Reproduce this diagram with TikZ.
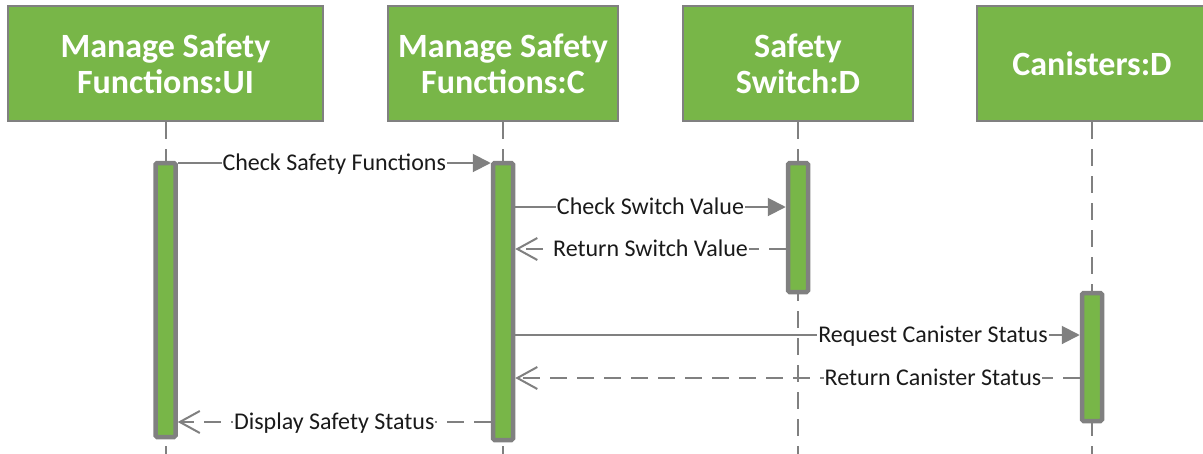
\documentclass[tikz,border=0pt]{standalone}
\usepackage{fontspec}
\setmainfont{Carlito}
\usetikzlibrary{arrows.meta}
\definecolor{actgreen}{RGB}{120,182,72}
\definecolor{linegray}{RGB}{128,128,128}
\definecolor{txtdark}{RGB}{26,26,26}
\begin{document}
\begin{tikzpicture}[x=1pt,y=-1pt,
  head/.style={draw=linegray, line width=2pt, fill=actgreen, text=white,
    font=\fontsize{34}{36}\selectfont\bfseries, align=center,
    minimum width=230pt, minimum height=115pt, inner sep=0pt},
  life/.style={draw=linegray, line width=2pt, dash pattern=on 17pt off 10pt},
  actbar/.style={draw=linegray, line width=4.5pt, fill=actgreen,
    rounded corners=1.5pt, minimum width=20pt, inner sep=0pt},
  call/.style={draw=linegray, line width=2pt, -{Triangle[length=18pt,width=18pt]}},
  reply/.style={draw=linegray, line width=2pt, dash pattern=on 17pt off 10pt,
    -{Straight Barb[length=20pt,width=22pt]}},
  lbl/.style={fill=white, text=txtdark, font=\fontsize{24}{26}\selectfont,
    inner sep=1pt, text height=15.5pt, text depth=0pt}
]
\useasboundingbox (0,0) rectangle (1203,453);

% lifeline heads
\node[head, minimum width=315pt] (h1) at (165.5,63.5) {Manage Safety\\Functions:UI};
\node[head] (h2) at (503,63.5) {Manage Safety\\Functions:C};
\node[head] (h3) at (798,63.5) {Safety\\Switch:D};
\node[head] (h4) at (1092,63.5) {Canisters:D};

% lifeline ends
\coordinate (e1) at (165.5,455);
\coordinate (e2) at (503,455);
\coordinate (e3) at (798,455);
\coordinate (e4) at (1092,455);

\draw[life] (h1.south) -- (e1);
\draw[life] (h2.south) -- (e2);
\draw[life] (h3.south) -- (e3);
\draw[life] (h4.south) -- (e4);

% activation bars
\node[actbar, minimum height=274pt] (b1) at (165.5,300) {};
\node[actbar, minimum height=277pt] (b2) at (503,301.5) {};
\node[actbar, minimum height=129pt] (b3) at (798,227.5) {};
\node[actbar, minimum height=128pt] (b4) at (1092,357) {};

% message rows
\coordinate (r1) at (0,163);
\coordinate (r2) at (0,207);
\coordinate (r3) at (0,249);
\coordinate (r4) at (0,335);
\coordinate (r5) at (0,378);
\coordinate (r6) at (0,422);

\draw[call] (b1.east |- r1) -- node[lbl] {Check Safety Functions} (b2.west |- r1);
\draw[call] (b2.east |- r2) -- node[lbl] {Check Switch Value} (b3.west |- r2);
\draw[reply] (b3.west |- r3) -- node[lbl] {Return Switch Value} (b2.east |- r3);
\draw[call] (b2.east |- r4) -- node[lbl, pos=0.74] {Request Canister Status} (b4.west |- r4);
\draw[reply] (b4.west |- r5) -- node[lbl, pos=0.26] {Return Canister Status} (b2.east |- r5);
\draw[reply] (b2.west |- r6) -- node[lbl] {Display Safety Status} (b1.east |- r6);
\end{tikzpicture}
\end{document}
